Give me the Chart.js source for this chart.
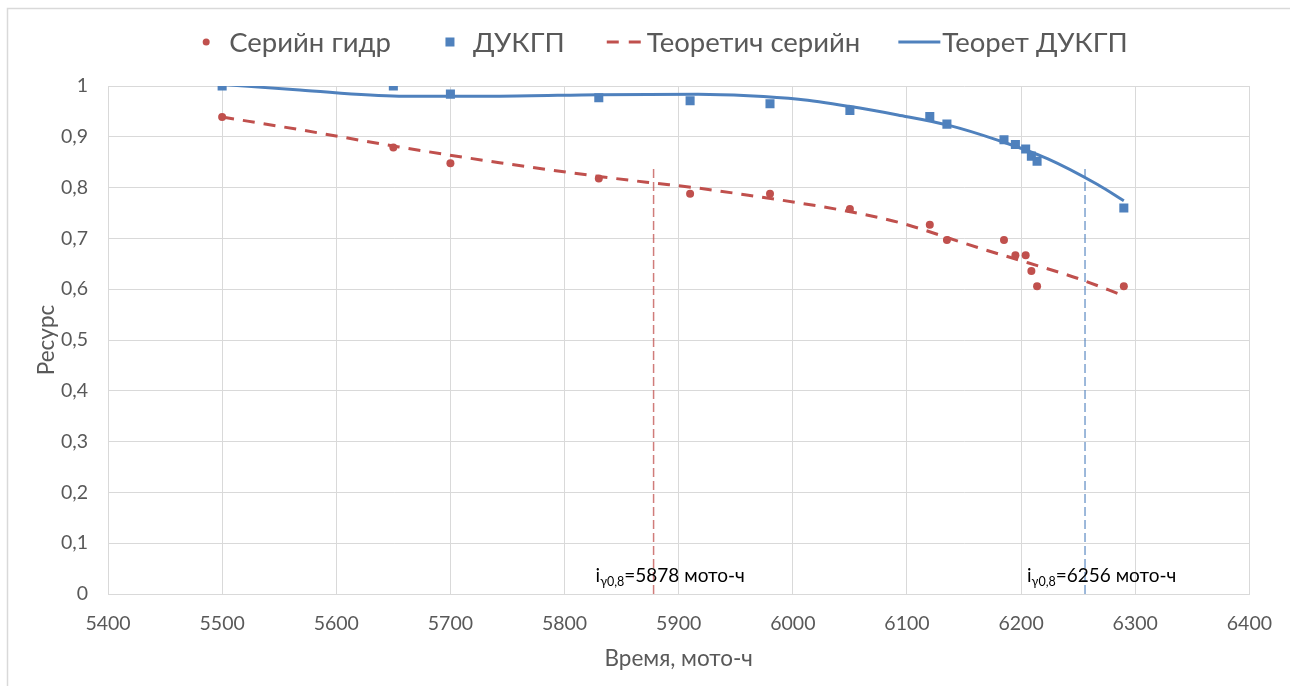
<!DOCTYPE html>
<html lang="ru">
<head>
<meta charset="utf-8">
<script src="https://cdn.jsdelivr.net/npm/chart.js@4/dist/chart.umd.min.js"></script>
<style>
  html, body { margin: 0; padding: 0; background: #ffffff; }
  #wrap { position: relative; width: 1290px; height: 686px; }
</style>
</head>
<body>
<div id="wrap"><canvas id="c"></canvas></div>
<script>
const FONT = "Lato, 'Noto Sans', sans-serif";

// Measured resource per operating hour
const hours         = [5500, 5650, 5700, 5830, 5910, 5980, 6050, 6120, 6135, 6185, 6195, 6204, 6209, 6214, 6290];
const serialValues  = [0.939, 0.879, 0.848, 0.818, 0.788, 0.788, 0.758, 0.727, 0.697, 0.697, 0.667, 0.667, 0.636, 0.606, 0.606];
const dukgpValues   = [1.000, 1.000, 0.984, 0.977, 0.971, 0.965, 0.952, 0.940, 0.925, 0.894, 0.885, 0.876, 0.862, 0.852, 0.760];

// Theoretical curves
const serialTrendHours  = [5500, 5568, 5655, 5743, 5830, 5874, 5917, 5961, 6005, 6049, 6092, 6162, 6206, 6250, 6290];
const serialTrendValues = [0.939, 0.914, 0.880, 0.849, 0.822, 0.810, 0.799, 0.785, 0.770, 0.753, 0.732, 0.682, 0.652, 0.621, 0.587];
const dukgpTrendHours   = [5500, 5568, 5655, 5743, 5830, 5917, 5961, 6005, 6049, 6092, 6136, 6180, 6223, 6267, 6290];
const dukgpTrendValues  = [1.003, 0.992, 0.980, 0.980, 0.983, 0.984, 0.981, 0.974, 0.960, 0.943, 0.923, 0.893, 0.857, 0.806, 0.774];

// Gamma-percent resource at level 0.8
const markerHours = [5878, 6256];
const markerTop   = 0.84;

const seriesNames = ['Серийн гидр', 'ДУКГП', 'Теоретич серийн', 'Теорет ДУКГП'];
const xTickValues = [5400, 5500, 5600, 5700, 5800, 5900, 6000, 6100, 6200, 6300, 6400];
const yTickValues = [0, 0.1, 0.2, 0.3, 0.4, 0.5, 0.6, 0.7, 0.8, 0.9, 1];
const xTitle = 'Время, мото-ч';
const yTitle = 'Ресурс';

const RED = '#C0504D';
const BLUE = '#4F81BD';
const GRID = '#d9d9d9';
const TEXT = '#595959';

const toPoints = (xs, ys) => xs.map((x, i) => ({ x, y: ys[i] }));
const fmtY = v => String(+v.toFixed(1)).replace('.', ',');

// Frame around the whole chart
const framePlugin = {
  id: 'frame',
  beforeDraw(chart) {
    const { ctx, width, height } = chart;
    ctx.save();
    ctx.fillStyle = '#ffffff';
    ctx.fillRect(0, 0, width, height);
    ctx.strokeStyle = GRID;
    ctx.lineWidth = 1.5;
    ctx.strokeRect(7.5, 8.5, width + 20, height + 20);
    ctx.restore();
  }
};

// Legend row with mixed symbols
const legendPlugin = {
  id: 'rowLegend',
  afterDraw(chart, args, opts) {
    const ctx = chart.ctx;
    const items = chart.data.datasets.filter(d => d.legendSymbol);
    ctx.save();
    ctx.font = `${opts.size}px ${FONT}`;
    const W = 36, g = 5, G = 41;
    const widths = items.map(d => W + g + ctx.measureText(d.label).width);
    const total = widths.reduce((a, b) => a + b, 0) + G * (items.length - 1);
    let x = opts.centerX - total / 2;
    const y = opts.y;
    items.forEach((d, i) => {
      const cx = x + W / 2;
      ctx.save();
      if (d.legendSymbol === 'dot') {
        ctx.fillStyle = d.backgroundColor;
        ctx.beginPath();
        ctx.arc(cx, y, 3.5, 0, Math.PI * 2);
        ctx.fill();
      } else if (d.legendSymbol === 'square') {
        ctx.fillStyle = d.backgroundColor;
        ctx.fillRect(cx - 4.5, y - 4.5, 9, 9);
      } else if (d.legendSymbol === 'dash') {
        ctx.strokeStyle = d.borderColor;
        ctx.lineWidth = 3;
        ctx.setLineDash([12, 10]);
        ctx.beginPath();
        ctx.moveTo(cx - 17, y);
        ctx.lineTo(cx + 17, y);
        ctx.stroke();
      } else {
        ctx.strokeStyle = d.borderColor;
        ctx.lineWidth = 3;
        ctx.beginPath();
        ctx.moveTo(cx - 21, y);
        ctx.lineTo(cx + 21, y);
        ctx.stroke();
      }
      ctx.restore();
      ctx.fillStyle = TEXT;
      ctx.textBaseline = 'middle';
      ctx.textAlign = 'left';
      ctx.fillText(d.label, x + W + g, y + 1);
      x += widths[i] + G;
    });
    ctx.restore();
  }
};

// Labels "i_γ0,8 = N мото-ч" next to the vertical markers
const markerLabelPlugin = {
  id: 'markerLabels',
  afterDatasetsDraw(chart, args, opts) {
    const ctx = chart.ctx;
    const xs = chart.scales.x;
    const base = chart.chartArea.bottom - 12;
    ctx.save();
    ctx.fillStyle = '#000000';
    ctx.textBaseline = 'alphabetic';
    ctx.textAlign = 'left';
    markerHours.forEach(h => {
      let x = xs.getPixelForValue(h) - opts.offset;
      ctx.font = `${opts.size}px ${FONT}`;
      ctx.fillText('i', x, base);
      x += ctx.measureText('i').width;
      ctx.font = `${opts.subSize}px ${FONT}`;
      ctx.fillText('γ0,8', x, base + 4);
      x += ctx.measureText('γ0,8').width;
      ctx.font = `${opts.size}px ${FONT}`;
      ctx.fillText('=' + h + ' мото-ч', x, base);
    });
    ctx.restore();
  }
};

const markerColors = ['rgba(192,80,77,0.75)', 'rgba(79,129,189,0.75)'];
const markerSets = markerHours.map((h, i) => ({
  type: 'line',
  data: [{ x: h, y: 0 }, { x: h, y: markerTop }],
  borderColor: markerColors[i],
  borderWidth: 1.5,
  borderDash: [9, 4],
  pointRadius: 0,
  fill: false,
  order: 5
}));

new Chart(document.getElementById('c'), {
  type: 'scatter',
  data: {
    datasets: [
      {
        label: seriesNames[0],
        legendSymbol: 'dot',
        data: toPoints(hours, serialValues),
        backgroundColor: RED,
        borderColor: RED,
        pointStyle: 'circle',
        pointRadius: 4,
        pointBorderWidth: 0,
        order: 2
      },
      {
        label: seriesNames[1],
        legendSymbol: 'square',
        data: toPoints(hours, dukgpValues),
        backgroundColor: BLUE,
        borderColor: BLUE,
        pointStyle: 'rect',
        pointRadius: 6.4,
        pointBorderWidth: 0,
        order: 2
      },
      {
        type: 'line',
        label: seriesNames[2],
        legendSymbol: 'dash',
        data: toPoints(serialTrendHours, serialTrendValues),
        borderColor: RED,
        backgroundColor: RED,
        borderWidth: 3,
        borderDash: [12, 9],
        cubicInterpolationMode: 'monotone',
        pointRadius: 0,
        fill: false,
        order: 1
      },
      {
        type: 'line',
        label: seriesNames[3],
        legendSymbol: 'line',
        data: toPoints(dukgpTrendHours, dukgpTrendValues),
        borderColor: BLUE,
        backgroundColor: BLUE,
        borderWidth: 3,
        cubicInterpolationMode: 'monotone',
        pointRadius: 0,
        fill: false,
        order: 1
      },
      ...markerSets
    ]
  },
  options: {
    responsive: true,
    maintainAspectRatio: false,
    animation: false,
    layout: { padding: { left: 8, right: 38, top: 86, bottom: 0 } },
    plugins: {
      legend: { display: false },
      tooltip: { enabled: false },
      rowLegend: { size: 27.5, y: 42, centerX: 658 },
      markerLabels: { size: 19, subSize: 12.5, offset: 58 }
    },
    scales: {
      x: {
        type: 'linear',
        min: 5400,
        max: 6400,
        afterBuildTicks: s => { s.ticks = xTickValues.map(v => ({ value: v })); },
        afterFit: s => { s.height = 92; },
        grid: { color: GRID, lineWidth: 1, drawTicks: false },
        border: { color: GRID, width: 1 },
        ticks: {
          padding: 18,
          color: TEXT,
          font: { family: FONT, size: 19.5 },
          callback: v => String(v),
          maxRotation: 0
        },
        title: {
          display: true,
          text: xTitle,
          color: TEXT,
          font: { family: FONT, size: 22.5 },
          padding: { top: 0, bottom: 14 }
        }
      },
      y: {
        type: 'linear',
        min: 0,
        max: 1,
        afterBuildTicks: s => { s.ticks = yTickValues.map(v => ({ value: v })); },
        afterFit: s => { s.width = 100; },
        grid: { color: GRID, lineWidth: 1, drawTicks: false },
        border: { color: GRID, width: 1 },
        ticks: {
          padding: 20,
          color: TEXT,
          font: { family: FONT, size: 19.5 },
          callback: v => fmtY(v)
        },
        title: {
          display: true,
          text: yTitle,
          color: TEXT,
          font: { family: FONT, size: 22.5 },
          padding: { top: 25, bottom: 0 }
        }
      }
    }
  },
  plugins: [framePlugin, legendPlugin, markerLabelPlugin]
});
</script>
</body>
</html>
